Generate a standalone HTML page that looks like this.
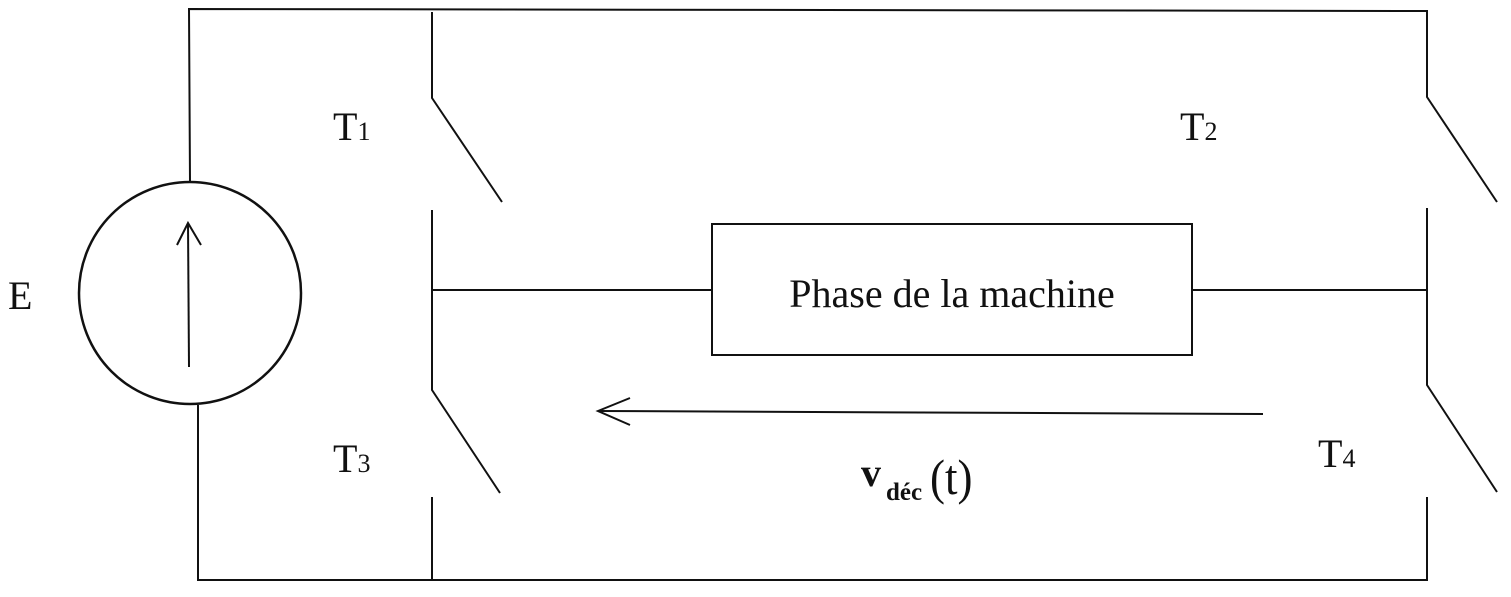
<!DOCTYPE html>
<html><head><style>
body{margin:0;background:#fff;}
svg text{font-family:"Liberation Serif",serif;fill:#111;}
</style></head><body>
<svg width="1511" height="592" viewBox="0 0 1511 592" xmlns="http://www.w3.org/2000/svg">
<g stroke="#111" stroke-width="2" fill="none">
<polyline points="190,182 189,9 1427,11 1427,97 1497,202"/>
<polyline points="432,12 432,98 502,202"/>
<polyline points="432,210 432,390 500,493"/>
<polyline points="432,497 432,580"/>
<polyline points="1427,208 1427,385 1497,492"/>
<polyline points="1427,497 1427,580 198,580 198,405"/>
<circle cx="190" cy="293" r="111" stroke-width="2.5"/>
<line x1="189" y1="367" x2="188" y2="223"/>
<polyline points="177,245 188,223 201,245"/>
<line x1="432" y1="290" x2="712" y2="290"/>
<rect x="712" y="224" width="480" height="131"/>
<line x1="1192" y1="290" x2="1427" y2="290"/>
<line x1="1263" y1="414" x2="598" y2="411"/>
<polyline points="630,398 598,411 630,425"/>
</g>
<text x="8" y="309" font-size="40">E</text>
<text x="333" y="140" font-size="40">T<tspan font-size="26">1</tspan></text>
<text x="1180" y="140" font-size="40">T<tspan font-size="26">2</tspan></text>
<text x="333" y="472" font-size="40">T<tspan font-size="26">3</tspan></text>
<text x="1318" y="467" font-size="40">T<tspan font-size="26">4</tspan></text>
<text x="952" y="307" font-size="40" text-anchor="middle">Phase de la machine</text>
<text x="861" y="486" font-size="40" font-weight="bold">v</text>
<text x="886" y="500" font-size="25" font-weight="bold">déc</text>
<text x="930" y="494" font-size="50" transform="translate(930,0) scale(0.9,1) translate(-930,0)">(t)</text>
</svg>
</body></html>
